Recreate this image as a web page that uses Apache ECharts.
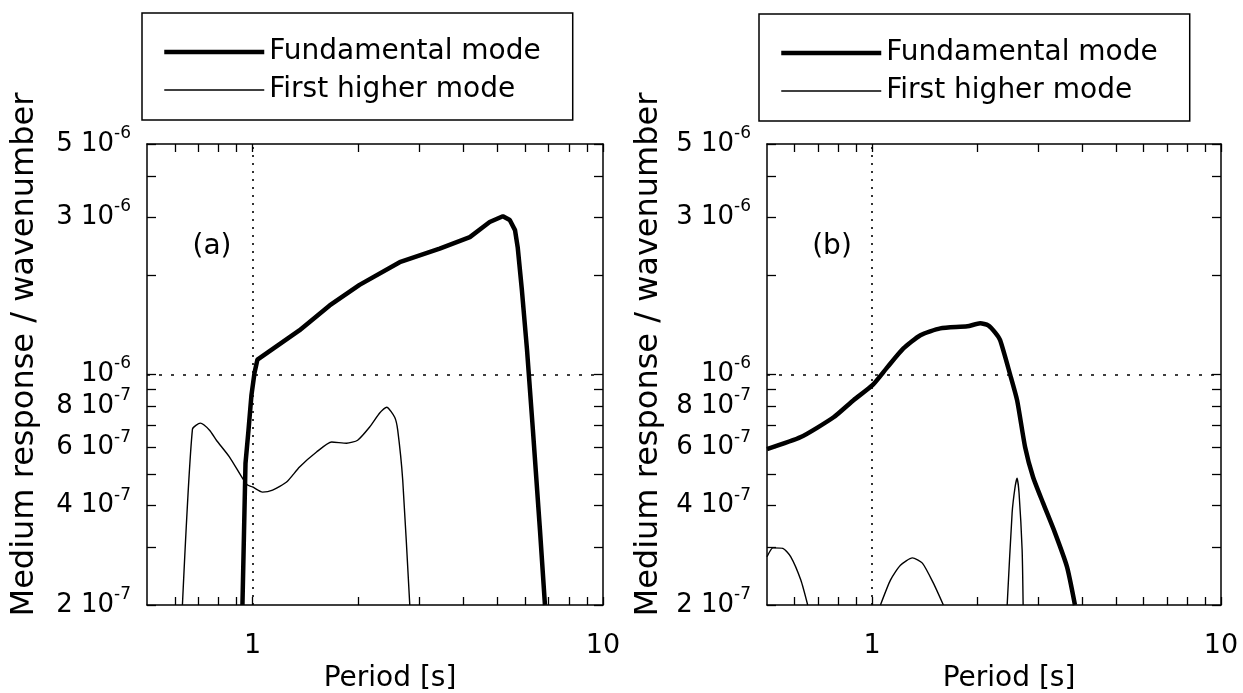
<!DOCTYPE html>
<html><head><meta charset="utf-8">
<script src="https://cdn.jsdelivr.net/npm/echarts@6/dist/echarts.min.js"></script>
<style>html,body{margin:0;padding:0;background:#fff}#c{width:1243px;height:693px}</style>
</head><body><div id="c"></div>
<script>
// ---- Panel (a) ----
const aFundX = [0.936, 0.955, 0.974, 0.993, 1.013, 1.033, 1.36, 1.66, 2.02, 2.63, 3.42, 4.17, 4.75, 5.18, 5.42, 5.61, 5.71, 5.87, 6.07, 6.31, 6.61, 6.83];
const aFundY = [2.0e-7, 5.38e-7, 6.78e-7, 8.65e-7, 1.01e-6, 1.11e-6, 1.36e-6, 1.62e-6, 1.87e-6, 2.19e-6, 2.41e-6, 2.61e-6, 2.90e-6, 3.02e-6, 2.94e-6, 2.74e-6, 2.43e-6, 1.80e-6, 1.19e-6, 6.78e-7, 3.37e-7, 2.0e-7];
const aHighX = [0.631, 0.674, 0.710, 0.754, 0.789, 0.860, 0.936, 0.968, 1.0, 1.068, 1.141, 1.251, 1.362, 1.523, 1.682, 1.856, 1.995, 2.159, 2.306, 2.415, 2.545, 2.596, 2.683, 2.810];
const aHighY = [2.0e-7, 6.83e-7, 7.12e-7, 6.78e-7, 6.32e-7, 5.62e-7, 4.85e-7, 4.62e-7, 4.56e-7, 4.40e-7, 4.46e-7, 4.72e-7, 5.24e-7, 5.82e-7, 6.24e-7, 6.19e-7, 6.32e-7, 6.93e-7, 7.64e-7, 7.96e-7, 7.42e-7, 6.78e-7, 4.78e-7, 2.0e-7];
// ---- Panel (b) ----
const bFundX = [0.5, 0.625, 0.776, 0.885, 1.003, 1.107, 1.23, 1.376, 1.569, 1.875, 2.042, 2.152, 2.254, 2.329, 2.487, 2.604, 2.746, 2.893, 3.09, 3.344, 3.62, 3.815];
const bFundY = [5.94e-7, 6.46e-7, 7.42e-7, 8.36e-7, 9.28e-7, 1.053e-6, 1.2e-6, 1.316e-6, 1.38e-6, 1.40e-6, 1.43e-6, 1.41e-6, 1.34e-6, 1.27e-6, 1.0e-6, 8.36e-7, 6.02e-7, 4.89e-7, 4.08e-7, 3.31e-7, 2.61e-7, 2.0e-7];
const bHighX = [0.5, 0.52, 0.555, 0.585, 0.625, 0.654, 0.8, 1.057, 1.129, 1.206, 1.305, 1.394, 1.499, 1.601, 2.0, 2.439, 2.52, 2.57, 2.604, 2.638, 2.692, 2.71];
const bHighY = [2.8e-7, 2.98e-7, 2.97e-7, 2.8e-7, 2.38e-7, 2.0e-7, null, 2.0e-7, 2.38e-7, 2.64e-7, 2.78e-7, 2.68e-7, 2.33e-7, 2.0e-7, null, 2.0e-7, 3.8e-7, 4.56e-7, 4.85e-7, 4.37e-7, 2.94e-7, 2.0e-7];
// ---- Axes ----
const seriesNames = ['Fundamental mode', 'First higher mode'];
const panelLabels = ['(a)', '(b)'];
const xTickValues = [0.6, 0.7, 0.8, 0.9, 1, 2, 3, 4, 5, 6, 7, 8, 9, 10];
const xLabelValues = [1, 10];
const yTickValues = [2e-7, 3e-7, 4e-7, 5e-7, 6e-7, 7e-7, 8e-7, 9e-7, 1e-6, 2e-6, 3e-6, 4e-6, 5e-6];
const yLabelValues = [2e-7, 4e-7, 6e-7, 8e-7, 1e-6, 3e-6, 5e-6];
const yLabelMant = ['2 ', '4 ', '6 ', '8 ', '', '3 ', '5 '];
const yLabelExp = ['-7', '-7', '-7', '-7', '-6', '-6', '-6'];
const refX = 1;
const refY = 1e-6;
const xTitle = 'Period [s]';
const yTitle = 'Medium response / wavenumber';

const FONT = 'DejaVu Sans';
const pairs = (xs, ys) => xs.map((x, i) => [x, ys[i] === null ? '-' : ys[i]]);

const grids = [
  {left: 147, top: 144, width: 456, height: 461, containLabel: false, outerBoundsMode: 'none'},
  {left: 767, top: 144, width: 454, height: 461, containLabel: false, outerBoundsMode: 'none'}
];

function xAxis(g, pos) {
  const bottom = pos === 'bottom';
  return {
    type: 'log', logBase: 10, min: 0.5, max: 10, gridIndex: g, position: pos,
    axisLine: {show: true, lineStyle: {color: '#000', width: 1.5}},
    axisTick: {show: true, inside: true, length: 8, customValues: xTickValues, lineStyle: {color: '#000', width: 1.3}},
    minorTick: {show: false},
    splitLine: {show: false},
    axisLabel: {show: bottom, customValues: xLabelValues, margin: 27, color: '#000', fontSize: 27, fontFamily: FONT,
      formatter: v => String(Math.round(v))},
    name: bottom ? xTitle : '', nameLocation: 'middle', nameGap: 60,
    nameTextStyle: {color: '#000', fontSize: 28, fontFamily: FONT, padding: [0, 0, 0, 30]}
  };
}
function yLabel(v) {
  for (let i = 0; i < yLabelValues.length; i++) {
    if (Math.abs(Math.log10(v) - Math.log10(yLabelValues[i])) < 1e-3) {
      return '{m|' + yLabelMant[i] + '10}{e|' + yLabelExp[i] + '}';
    }
  }
  return '';
}
function yAxis(g, pos, gap) {
  const left = pos === 'left';
  return {
    type: 'log', logBase: 10, min: 2e-7, max: 5e-6, gridIndex: g, position: pos,
    axisLine: {show: true, lineStyle: {color: '#000', width: 1.5}},
    axisTick: {show: true, inside: true, length: 9, customValues: yTickValues, lineStyle: {color: '#000', width: 1.3}},
    minorTick: {show: false},
    splitLine: {show: false},
    axisLabel: {show: left, customValues: yLabelValues, margin: 16, formatter: yLabel,
      rich: {
        m: {fontSize: 26, fontFamily: FONT, color: '#000', lineHeight: 38},
        e: {fontSize: 17, fontFamily: FONT, color: '#000', lineHeight: 18, verticalAlign: 'top'}
      }},
    name: left ? yTitle : '', nameLocation: 'middle', nameGap: gap, nameRotate: 90,
    nameTextStyle: {color: '#000', fontSize: 32, fontFamily: FONT, padding: [0, 0, 0, 40]}
  };
}

function refLine() {
  return {
    silent: true, symbol: 'none', precision: 20, label: {show: false}, animation: false,
    data: [
      {xAxis: refX, lineStyle: {color: '#000', width: 1.6, type: [2, 6]}},
      {yAxis: refY, lineStyle: {color: '#000', width: 1.6, type: [3, 9]}}
    ]
  };
}

function fundSeries(g, xs, ys, smooth) {
  return {name: seriesNames[0], type: 'line', xAxisIndex: g * 2, yAxisIndex: g * 2, data: pairs(xs, ys),
    symbol: 'none', showSymbol: false, clip: true, smooth: smooth,
    lineStyle: {color: '#000', width: 4.5}, itemStyle: {color: '#000'},
    markLine: refLine(), z: 3};
}
function highSeries(g, xs, ys) {
  return {name: seriesNames[1], type: 'line', xAxisIndex: g * 2, yAxisIndex: g * 2, data: pairs(xs, ys),
    symbol: 'none', showSymbol: false, clip: true, connectNulls: false, smooth: 0.2,
    lineStyle: {color: '#000', width: 1.4}, itemStyle: {color: '#000'}, z: 2};
}
function legend(left, top) {
  return {
    left: left, top: top, orient: 'vertical', selectedMode: false,
    itemWidth: 100, itemHeight: 14, itemGap: 10,
    padding: [25, 32, 16, 20],
    borderColor: '#000', borderWidth: 1.5,
    itemStyle: {opacity: 0},
    lineStyle: {width: 'inherit'},
    textStyle: {color: '#000', fontSize: 28, fontFamily: FONT},
    data: seriesNames
  };
}

const chart = echarts.init(document.getElementById('c'), null, {renderer: 'canvas'});
chart.setOption({
  animation: false,
  backgroundColor: '#fff',
  grid: grids,
  xAxis: [xAxis(0, 'bottom'), xAxis(0, 'top'), xAxis(1, 'bottom'), xAxis(1, 'top')],
  yAxis: [yAxis(0, 'left', 106), yAxis(0, 'right', 0), yAxis(1, 'left', 102), yAxis(1, 'right', 0)],
  legend: [legend(142, 13), legend(759, 14)],
  graphic: [
    {type: 'text', x: 212, y: 247, style: {text: panelLabels[0], fontSize: 28, fontFamily: FONT, fill: '#000', align: 'center', verticalAlign: 'middle'}},
    {type: 'text', x: 832, y: 247, style: {text: panelLabels[1], fontSize: 28, fontFamily: FONT, fill: '#000', align: 'center', verticalAlign: 'middle'}}
  ],
  series: [
    fundSeries(0, aFundX, aFundY, false), highSeries(0, aHighX, aHighY),
    fundSeries(1, bFundX, bFundY, 0.2), highSeries(1, bHighX, bHighY)
  ]
});
</script>
</body></html>
